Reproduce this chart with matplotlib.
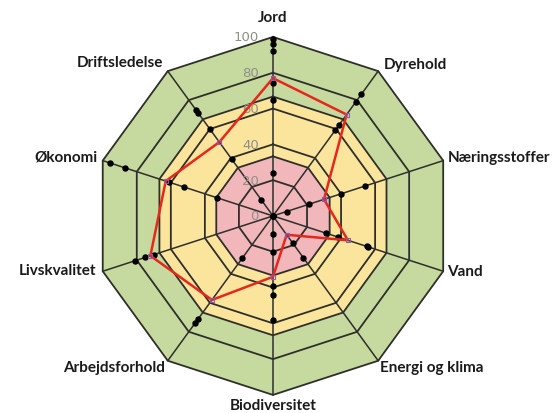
import numpy as np
import matplotlib.pyplot as plt

categories = ['Jord', 'Dyrehold', 'Næringsstoffer', 'Vand', 'Energi og klima',
              'Biodiversitet', 'Arbejdsforhold', 'Livskvalitet', 'Økonomi', 'Driftsledelse']
farm_score = [77, 70, 30, 44, 13, 34, 58, 72, 63, 51]
indicator_scores = [
    [99, 96, 92, 74, 65, 24, 0],
    [84, 79, 63, 59],
    [54, 40, 21, 8, 0],
    [56, 55, 38, 31],
    [29, 19, 0],
    [58, 44, 39, 20, 10],
    [74, 71, 29],
    [81, 75, 70],
    [96, 87, 61, 52, 33],
    [73, 71, 60, 39, 11],
]
zone_limits = [100, 66.7, 33.3]
zone_colors = ['#c6da9f', '#fbe59d', '#f2b7bb']
ring_levels = [20, 33.3, 40, 60, 66.7, 80, 100]
scale_ticks = [0, 20, 40, 60, 80, 100]

n = len(categories)
angles = np.arange(n) * 2 * np.pi / n


def to_xy(r, a):
    return np.asarray(r) * np.sin(a), np.asarray(r) * np.cos(a)


fig = plt.figure(figsize=(5.59, 4.14), dpi=100)
ax = fig.add_axes([0, 0, 1, 1])
ax.set_xlim(-152.5, 159.8)
ax.set_ylim(-110.1, 121.2)
ax.set_aspect('equal')
ax.axis('off')

closed = np.append(angles, angles[0])

# coloured zones
for lim, col in zip(zone_limits, zone_colors):
    x, y = to_xy(np.full(n + 1, lim), closed)
    ax.fill(x, y, color=col, zorder=1, lw=0)

# rings and spokes
for lvl in ring_levels:
    x, y = to_xy(np.full(n + 1, lvl), closed)
    ax.plot(x, y, color='#2e2e2a', lw=1.3, zorder=2)
for a in angles:
    x, y = to_xy([0, 100], [a, a])
    ax.plot(x, y, color='#2e2e2a', lw=1.1, zorder=2)

# scale labels along the top spoke
for t in scale_ticks:
    ax.text(-8, t, str(t), ha='right', va='center', fontsize=9.5,
            color='#8f8f86', zorder=3)

# indicator dots
for a, vals in zip(angles, indicator_scores):
    x, y = to_xy(vals, np.full(len(vals), a))
    ax.plot(x, y, 'o', color='black', ms=3.6, ls='none', zorder=4)

# farm polygon
x, y = to_xy(farm_score + farm_score[:1], closed)
ax.plot(x, y, color='#e8261c', lw=1.8, zorder=5)
ax.plot(x[:-1], y[:-1], 's', ms=3, mfc='none', mec='#8060b0', mew=0.8, zorder=6)

# category labels
label_layout = [
    ('center', 0, 20), ('left', 6, 7), ('left', 5, 4), ('left', 4, 0), ('left', 2, -6),
    ('center', 0, -10), ('right', -3, -6), ('right', -6, 1), ('right', -5, 4), ('right', -5, 9),
]
for a, name, (ha, dx, dy) in zip(angles, categories, label_layout):
    vx, vy = to_xy(100, a)
    ax.annotate(name, (vx, vy), xytext=(dx * 0.72, dy * 0.72), textcoords='offset points',
                ha=ha, va='center', fontsize=11, fontweight='bold',
                family=['Lato', 'DejaVu Sans'], color='#1a1a1a')

fig.savefig('out.png', dpi=100)
